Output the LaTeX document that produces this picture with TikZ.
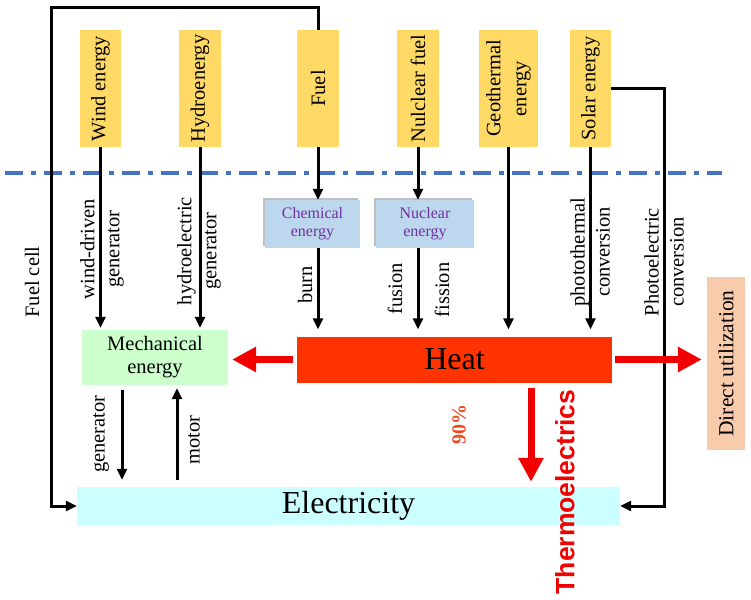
\documentclass[tikz,border=0pt]{standalone}
\usepackage{fontspec}
\setmainfont{Liberation Serif}
\newfontfamily\headfont{Liberation Sans}
\usetikzlibrary{arrows.meta,shadows}
\definecolor{srcyellow}{HTML}{FFD966}
\definecolor{chemblue}{HTML}{BDD7EE}
\definecolor{chemtext}{HTML}{7030A0}
\definecolor{mechgreen}{HTML}{CCFFCC}
\definecolor{heatred}{HTML}{FF3300}
\definecolor{arrowred}{HTML}{F00000}
\definecolor{directpeach}{HTML}{F8CBAD}
\definecolor{eleccyan}{HTML}{CCFFFF}
\definecolor{sepblue}{HTML}{4472C4}
\definecolor{pctorange}{HTML}{F04A20}
\begin{document}
\begin{tikzpicture}[x=1pt,y=1pt]
\tikzstyle{every node}+=[inner sep=0pt]
\tikzstyle{source}=[fill=srcyellow, rotate=90, minimum width=117pt, minimum height=41pt, align=center, font=\fontsize{20.5}{26}\selectfont]
\tikzstyle{carrier}=[fill=chemblue, text=chemtext, align=center, minimum height=48pt, font=\fontsize{16}{18}\selectfont, drop shadow={shadow xshift=-2pt, shadow yshift=2pt, opacity=0.5}]
\tikzstyle{tag}=[rotate=90, align=center, font=\fontsize{20.5}{25}\selectfont]
\tikzstyle{flow}=[black, line width=3pt, -{Triangle[length=11pt,width=10pt]}]
\tikzstyle{hot}=[arrowred, line width=7pt, -{Triangle[length=24pt,width=24pt]}]
\useasboundingbox (0,0) rectangle (751,-599);
\draw [sepblue, line width=4pt, dash pattern=on 18pt off 8pt on 5pt off 8pt] (5,-173) -- (722,-173);
\node [source] (wind) at (100.5,-88.5) {Wind energy};
\node [source, minimum height=42pt] (hydro) at (200,-88.5) {Hydroenergy};
\node [source, minimum height=42pt] (fuel) at (318,-88.5) {Fuel};
\node [source, minimum height=42pt] (nucfuel) at (418,-88.5) {Nulclear fuel};
\node [source, minimum height=59pt] (geo) at (508.5,-88.5) {Geothermal\\energy};
\node [source] (solar) at (590.5,-88.5) {Solar energy};
\node [carrier, minimum width=95pt] (chem) at (312.5,-224) {Chemical\\energy};
\node [carrier, minimum width=98pt] (nuc) at (425,-224) {Nuclear\\energy};
\node [fill=mechgreen, minimum width=146pt, minimum height=55pt, align=center, font=\fontsize{20.5}{23}\selectfont] (mech) at (155,-357.5) {Mechanical\\energy};
\node [fill=heatred, minimum width=315pt, minimum height=46pt, font=\fontsize{32}{32}\selectfont] (heat) at (454.5,-359.5) {Heat};
\node [fill=directpeach, rotate=90, minimum width=173pt, minimum height=38pt, font=\fontsize{21.5}{24}\selectfont] (direct) at (726,-363.5) {Direct utilization};
\node [fill=eleccyan, minimum width=543pt, minimum height=38pt, font=\fontsize{32}{32}\selectfont] (elec) at (348.5,-506) {Electricity};
\node [tag] (windgen) at (102,-249) {wind-driven\\generator};
\node [tag] (hydrogen) at (199,-251) {hydroelectric\\generator};
\node [tag] (burn) at (305,-285) {burn};
\node [tag] (fusion) at (395,-289) {fusion};
\node [tag] (fission) at (442,-290) {fission};
\node [tag] (photo) at (590,-252) {photothermal\\conversion};
\node [tag] (pvlabel) at (664,-262) {Photoelectric\\conversion};
\node [tag] (cell) at (32,-282) {Fuel cell};
\node [tag] (genlabel) at (101,-434) {generator};
\node [tag] (motlabel) at (194,-440) {motor};
\node [rotate=90, text=pctorange, font=\bfseries\fontsize{20}{20}\selectfont] (pct) at (459,-424) {90\%};
\node [rotate=90, text=arrowred, font=\headfont\bfseries\fontsize{26.5}{26.5}\selectfont] (thermo) at (565,-492) {Thermoelectrics};
\coordinate (loop) at (51,-8);
\coordinate (pv) at (664,-88.5);
\coordinate (genx) at (122,-430);
\coordinate (motx) at (177,-430);
\coordinate (tex) at (531,-430);
\draw [flow] (fuel.east) |- (loop) |- (elec.west);
\draw [flow] (solar.south) -- (pv) |- (elec.east);
\draw [flow, shorten >=2pt] (wind.west) -- (wind.west |- mech.north);
\draw [flow, shorten >=2pt] (hydro.west) -- (hydro.west |- mech.north);
\draw [flow] (fuel.west) -- (fuel.west |- chem.north);
\draw [flow] (nucfuel.west) -- (nucfuel.west |- nuc.north);
\draw [flow, shorten >=7pt] (fuel.west |- chem.south) -- (fuel.west |- heat.north);
\draw [flow, shorten >=7pt] (nucfuel.west |- nuc.south) -- (nucfuel.west |- heat.north);
\draw [flow, shorten >=7pt] (geo.west) -- (geo.west |- heat.north);
\draw [flow, shorten >=7pt] (solar.west) -- (solar.west |- heat.north);
\draw [flow, shorten <=5pt, shorten >=7pt] (genx |- mech.south) -- (genx |- elec.north);
\draw [flow, shorten <=7pt, shorten >=3pt] (motx |- elec.north) -- (motx |- mech.south);
\draw [hot, shorten <=4pt, shorten >=4pt] (heat.west) -- (heat.west -| mech.east);
\draw [hot, shorten <=3pt, shorten >=5pt] (heat.east) -- (heat.east -| direct.north);
\draw [hot, shorten <=5pt, shorten >=5pt] (tex |- heat.south) -- (tex |- elec.north);
\end{tikzpicture}
\end{document}
